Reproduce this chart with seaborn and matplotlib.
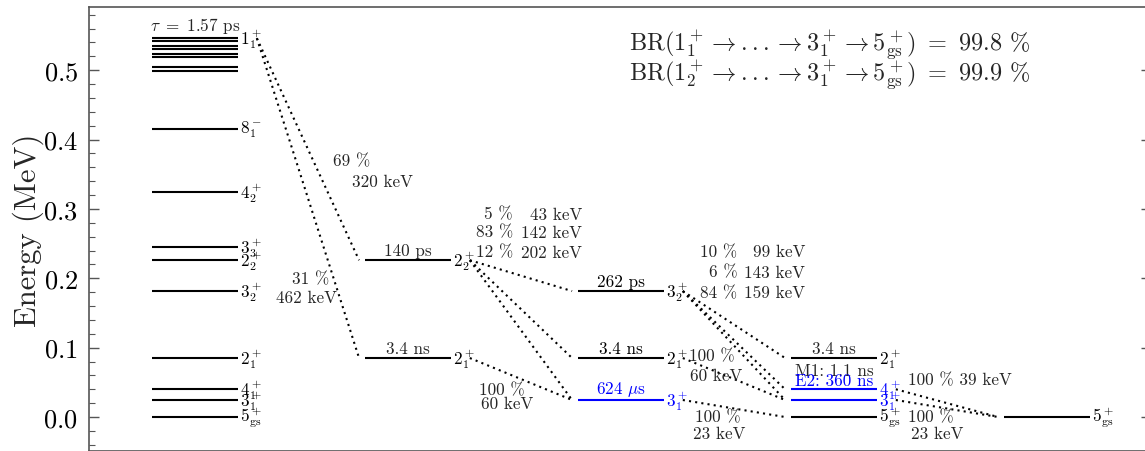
import matplotlib
matplotlib.use("Agg")
import matplotlib.pyplot as plt
from matplotlib.ticker import MultipleLocator
import seaborn as sns

# level energies (MeV) per column of the scheme
col1_energy = [0.0, 0.0245, 0.040, 0.085, 0.1815, 0.226, 0.245, 0.324, 0.415,
               0.499, 0.504, 0.519, 0.523, 0.531, 0.535, 0.542, 0.546]
col1_label = ["5_{gs}", "3_1", "4_1", "2_1", "3_2", "2_2", "3_3", "4_2", "8_1-",
              "", "", "", "", "", "", "", "1_1"]
col2_energy = [0.226, 0.085]
col2_label = ["2_2", "2_1"]
col2_life = ["140 ps", "3.4 ns"]
col3_energy = [0.1815, 0.085, 0.0245]
col3_label = ["3_2", "2_1", "3_1"]
col3_life = ["262 ps", "3.4 ns", r"624 $\mu$s"]
col3_color = ["black", "black", "blue"]
col4_energy = [0.085, 0.040, 0.0245, 0.0]
col4_label = ["2_1", "4_1", "3_1", "5_{gs}"]
col4_color = ["black", "blue", "blue", "black"]
col5_energy = [0.0]
col5_label = ["5_{gs}"]

# transitions: (from column, from energy, to column, to energy)
transitions = [
    (0, 0.546, 1, 0.226), (0, 0.546, 1, 0.085),
    (1, 0.226, 2, 0.1815), (1, 0.226, 2, 0.085), (1, 0.226, 2, 0.0245),
    (1, 0.085, 2, 0.0245),
    (2, 0.1815, 3, 0.085), (2, 0.1815, 3, 0.040), (2, 0.1815, 3, 0.0245),
    (2, 0.085, 3, 0.0245), (2, 0.0245, 3, 0.0),
    (3, 0.040, 4, 0.0), (3, 0.0245, 4, 0.0),
]

br_text = [r"BR$(1^+_1 \rightarrow ... \rightarrow 3^+_1 \rightarrow 5^+_{\mathrm{gs}})\ =\ 99.8$ %",
           r"BR$(1^+_2 \rightarrow ... \rightarrow 3^+_1 \rightarrow 5^+_{\mathrm{gs}})\ =\ 99.9$ %"]
br22_pct = ["5 %", "83 %", "12 %"]
br22_kev = ["43 keV", "142 keV", "202 keV"]
br32_pct = ["10 %", "6 %", "84 %"]
br32_kev = ["99 keV", "143 keV", "159 keV"]

sns.set_style("ticks")
plt.rcParams["font.family"] = "serif"
plt.rcParams["font.serif"] = ["cmr10", "DejaVu Serif"]
plt.rcParams["mathtext.fontset"] = "cm"
plt.rcParams["axes.formatter.use_mathtext"] = True

HW = 0.2      # half width of a level line (column units)
GAP_L = 0.09  # gap after label before transition starts
GAP_R = 0.03
FS = 12.3


def lab(s):
    if s.endswith("-"):
        n, sub = s[:-1].split("_")
        return rf"${n}^-_{{{sub}}}$"
    n, sub = s.split("_", 1)
    sub = sub.strip("{}")
    if sub == "gs":
        return rf"${n}^+_{{\mathrm{{gs}}}}$"
    return rf"${n}^+_{{{sub}}}$"


fig = plt.figure(figsize=(11.45, 4.52), dpi=100)
ax = fig.add_axes([89 / 1145, 0.0, 1062 / 1145, 444 / 452])


def levels(ax, c, energies, labels, colors=None):
    colors = colors or ["black"] * len(energies)
    ax.hlines(energies, c - HW, c + HW, colors=colors, lw=1.5)
    for e, l, col in zip(energies, labels, colors):
        if l:
            ax.text(c + HW + 0.012, e, lab(l), color=col, fontsize=FS,
                    ha="left", va="center")


levels(ax, 0, col1_energy, col1_label)
levels(ax, 1, col2_energy, col2_label)
levels(ax, 2, col3_energy, col3_label, col3_color)
levels(ax, 3, col4_energy, col4_label, col4_color)
levels(ax, 4, col5_energy, col5_label)

for c0, e0, c1, e1 in transitions:
    ax.plot([c0 + HW + GAP_L, c1 - HW - GAP_R], [e0, e1], color="black",
            lw=1.5, linestyle=(0, (1, 2)))

# lifetimes
ax.text(0, max(col1_energy) + 0.004, r"$\tau\ =\ 1.57$ ps", fontsize=FS,
        ha="center", va="bottom")
for e, t in zip(col2_energy, col2_life):
    ax.text(1, e + 0.003, t, fontsize=FS, ha="center", va="bottom")
for e, t, col in zip(col3_energy, col3_life, col3_color):
    ax.text(2, e + 0.003, t, fontsize=FS, ha="center", va="bottom", color=col)
ax.text(3, col4_energy[0] + 0.003, "3.4 ns", fontsize=FS, ha="center", va="bottom")
ax.text(3, 0.0675, "M1: 1.1 ns", fontsize=FS, ha="center", va="center")
ax.text(3, 0.0525, "E2: 360 ns", fontsize=FS, ha="center", va="center", color="blue")

# branching labels
ax.text(0.822, 0.369, "69 %", fontsize=FS, ha="right", va="center")
ax.text(1.023, 0.340, "320 keV", fontsize=FS, ha="right", va="center")
ax.text(0.629, 0.200, "31 %", fontsize=FS, ha="right", va="center")
ax.text(0.667, 0.173, "462 keV", fontsize=FS, ha="right", va="center")
for y, p, k in zip([0.2925, 0.2666, 0.2378], br22_pct, br22_kev):
    ax.text(1.493, y, p, fontsize=FS, ha="right", va="center")
    ax.text(1.817, y, k, fontsize=FS, ha="right", va="center")
for y, p, k in zip([0.239, 0.209, 0.180], br32_pct, br32_kev):
    ax.text(2.545, y, p, fontsize=FS, ha="right", va="center")
    ax.text(2.864, y, k, fontsize=FS, ha="right", va="center")
ax.text(1.549, 0.040, "100 %", fontsize=FS, ha="right", va="center")
ax.text(1.587, 0.019, "60 keV", fontsize=FS, ha="right", va="center")
ax.text(2.535, 0.088, "100 %", fontsize=FS, ha="right", va="center")
ax.text(2.568, 0.0605, "60 keV", fontsize=FS, ha="right", va="center")
ax.text(2.559, 0.0, "100 %", fontsize=FS, ha="right", va="center")
ax.text(2.582, -0.023, "23 keV", fontsize=FS, ha="right", va="center")
ax.text(3.347, 0.0535, "100 % 39 keV", fontsize=FS, ha="left", va="center")
ax.text(3.347, 0.0, "100 %", fontsize=FS, ha="left", va="center")
ax.text(3.606, -0.023, "23 keV", fontsize=FS, ha="right", va="center")

ax.text(3.92, 0.537, br_text[0], fontsize=17.5, ha="right", va="center")
ax.text(3.92, 0.494, br_text[1], fontsize=17.5, ha="right", va="center")

ax.set_xlim(-0.498, 4.488)
ax.set_ylim(-0.049, 0.591)
ax.set_xticks([])
ax.yaxis.set_major_locator(MultipleLocator(0.1))
ax.yaxis.set_minor_locator(MultipleLocator(0.02))
ax.tick_params(axis="y", which="both", direction="in", left=True, right=True,
               colors="#555555", labelcolor="black", labelsize=19)
ax.tick_params(axis="y", which="major", length=7, width=1, pad=8)
ax.tick_params(axis="y", which="minor", length=4, width=0.8)
for s in ax.spines.values():
    s.set_color("#555555")
    s.set_linewidth(1.2)
ax.set_ylabel("Energy (MeV)", fontsize=22, labelpad=-1)

fig.savefig("out.png", dpi=100)
